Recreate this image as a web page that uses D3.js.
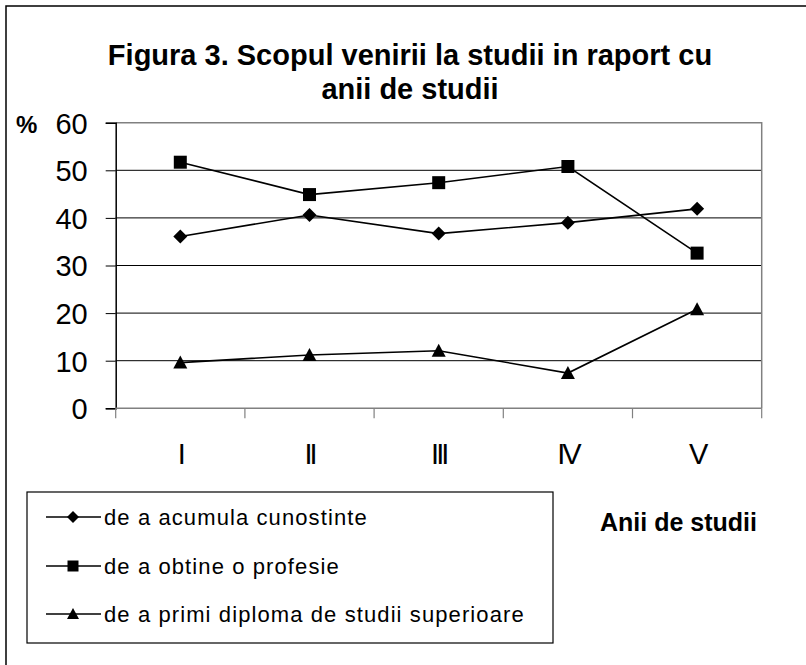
<!DOCTYPE html>
<html><head><meta charset="utf-8">
<script src="https://cdn.jsdelivr.net/npm/d3@7"></script>
<style>body{margin:0;background:#fff;} svg{display:block;font-family:"Liberation Sans",Arial,sans-serif;}</style>
</head><body>
<svg id="chart" width="806" height="665"></svg>
<script>
const categories = ["I", "II", "III", "IV", "V"];
const seriesNames = ["de a acumula cunostinte", "de a obtine o profesie", "de a primi diploma de studii superioare"];
const acumula = [36.1, 40.6, 36.7, 39.0, 41.9];
const profesie = [51.7, 44.9, 47.4, 50.8, 32.6];
const diploma = [9.6, 11.2, 12.1, 7.4, 20.8];
const yTicks = [0, 10, 20, 30, 40, 50, 60];
const series = [acumula, profesie, diploma];

// marker shapes: rotated square (diamond), square, triangle
const diamondSym = { draw(ctx, size) { const r = Math.sqrt(size) / 2; ctx.moveTo(0, -r); ctx.lineTo(r, 0); ctx.lineTo(0, r); ctx.lineTo(-r, 0); ctx.closePath(); } };
const squareSym = { draw(ctx, size) { const r = Math.sqrt(size) / 2; ctx.rect(-r, -r, 2 * r, 2 * r); } };
const triSym = { draw(ctx, size) { const r = Math.sqrt(size) / 2; ctx.moveTo(0, -r); ctx.lineTo(r, r * 0.85); ctx.lineTo(-r, r * 0.85); ctx.closePath(); } };
const symbols = [diamondSym, squareSym, triSym];
const plotSizes = [14 * 14, 13 * 13, 14 * 14];
const legSizes = [12 * 12, 11 * 11, 12 * 12];

const svg = d3.select("#chart");
svg.append("rect").attr("x", 6).attr("y", 6).attr("width", 820).attr("height", 680)
  .attr("fill", "none").attr("stroke", "#000").attr("stroke-width", 1.5);

const pL = 115.7, pR = 761.7, pT = 122.7, pB = 408.3;
const x = d3.scaleBand().domain(categories).range([pL, pR]).padding(0);
const y = d3.scaleLinear().domain([0, 60]).range([pB, pT]);

// title
const title = svg.append("text").attr("text-anchor", "middle").attr("font-weight", "bold")
  .attr("font-size", 29).attr("fill", "#000");
title.append("tspan").attr("x", 410).attr("y", 65).text("Figura 3. Scopul venirii la studii in raport cu");
title.append("tspan").attr("x", 410).attr("y", 99).text("anii de studii");

// gridlines
svg.append("g").selectAll("line").data(yTicks.filter(d => d > 0 && d < 60)).join("line")
  .attr("x1", pL).attr("x2", pR).attr("y1", d => y(d)).attr("y2", d => y(d))
  .attr("stroke", "#000").attr("stroke-width", 1);

svg.append("path").attr("d", `M${pL},${pT}H${pR}V${pB}`).attr("fill", "none")
  .attr("stroke", "#808080").attr("stroke-width", 1.5);

// y axis
const yAxis = svg.append("g").attr("transform", `translate(${pL},0)`)
  .call(d3.axisLeft(y).tickValues(yTicks).tickSize(10).tickPadding(18).tickFormat(d3.format("d")));
yAxis.select(".domain").attr("stroke", "#000").attr("stroke-width", 1.5);
yAxis.selectAll(".tick line").attr("stroke", "#000");
yAxis.selectAll("text").attr("font-size", 29).attr("fill", "#000").attr("dy", "0.36em")
  .attr("font-family", "Liberation Sans, Arial, sans-serif");

// x axis
const xAxisG = svg.append("g").attr("transform", `translate(0,${pB})`);
xAxisG.append("line").attr("x1", pL).attr("x2", pR).attr("stroke", "#808080").attr("stroke-width", 1.5);
const boundaries = categories.map(c => x(c)).concat([x(categories[categories.length - 1]) + x.bandwidth()]);
xAxisG.selectAll("line.t").data(boundaries).join("line").attr("class", "t")
  .attr("x1", d => d).attr("x2", d => d).attr("y1", 0).attr("y2", 10)
  .attr("stroke", "#808080").attr("stroke-width", 1.2);
xAxisG.selectAll("text").data(categories).join("text")
  .attr("x", d => x(d) + x.bandwidth() / 2).attr("y", 56)
  .attr("text-anchor", "middle").attr("font-size", 29).attr("letter-spacing", -3).text(d => d);

// % label
svg.append("text").attr("x", 16).attr("y", 133).attr("font-weight", "bold").attr("font-size", 24).text("%");

// axis title
svg.append("text").attr("x", 757).attr("y", 531).attr("text-anchor", "end").attr("font-weight", "bold")
  .attr("font-size", 25).text("Anii de studii");

// lines + markers
const line = d3.line().x((d, i) => x(categories[i]) + x.bandwidth() / 2).y(d => y(d));
series.forEach((s, k) => {
  svg.append("path").datum(s).attr("d", line).attr("fill", "none").attr("stroke", "#000").attr("stroke-width", 1.6);
  svg.append("g").selectAll("path").data(s).join("path")
    .attr("transform", (d, i) => `translate(${x(categories[i]) + x.bandwidth() / 2},${y(d)})`)
    .attr("d", d3.symbol().type(symbols[k]).size(plotSizes[k]))
    .attr("fill", "#000");
});

// legend
svg.append("rect").attr("x", 27).attr("y", 492).attr("width", 526).attr("height", 151)
  .attr("fill", "none").attr("stroke", "#000").attr("stroke-width", 1.2);
const legY = [517, 566, 614];
seriesNames.forEach((name, k) => {
  const g = svg.append("g").attr("transform", `translate(0,${legY[k]})`);
  g.append("line").attr("x1", 46).attr("x2", 101).attr("y1", 0).attr("y2", 0).attr("stroke", "#000").attr("stroke-width", 1.5);
  g.append("path").attr("transform", "translate(73,0)").attr("d", d3.symbol().type(symbols[k]).size(legSizes[k])).attr("fill", "#000");
  g.append("text").attr("x", 104).attr("y", 8).attr("font-size", 22).attr("letter-spacing", 1.1).text(name);
});
</script>
</body></html>
